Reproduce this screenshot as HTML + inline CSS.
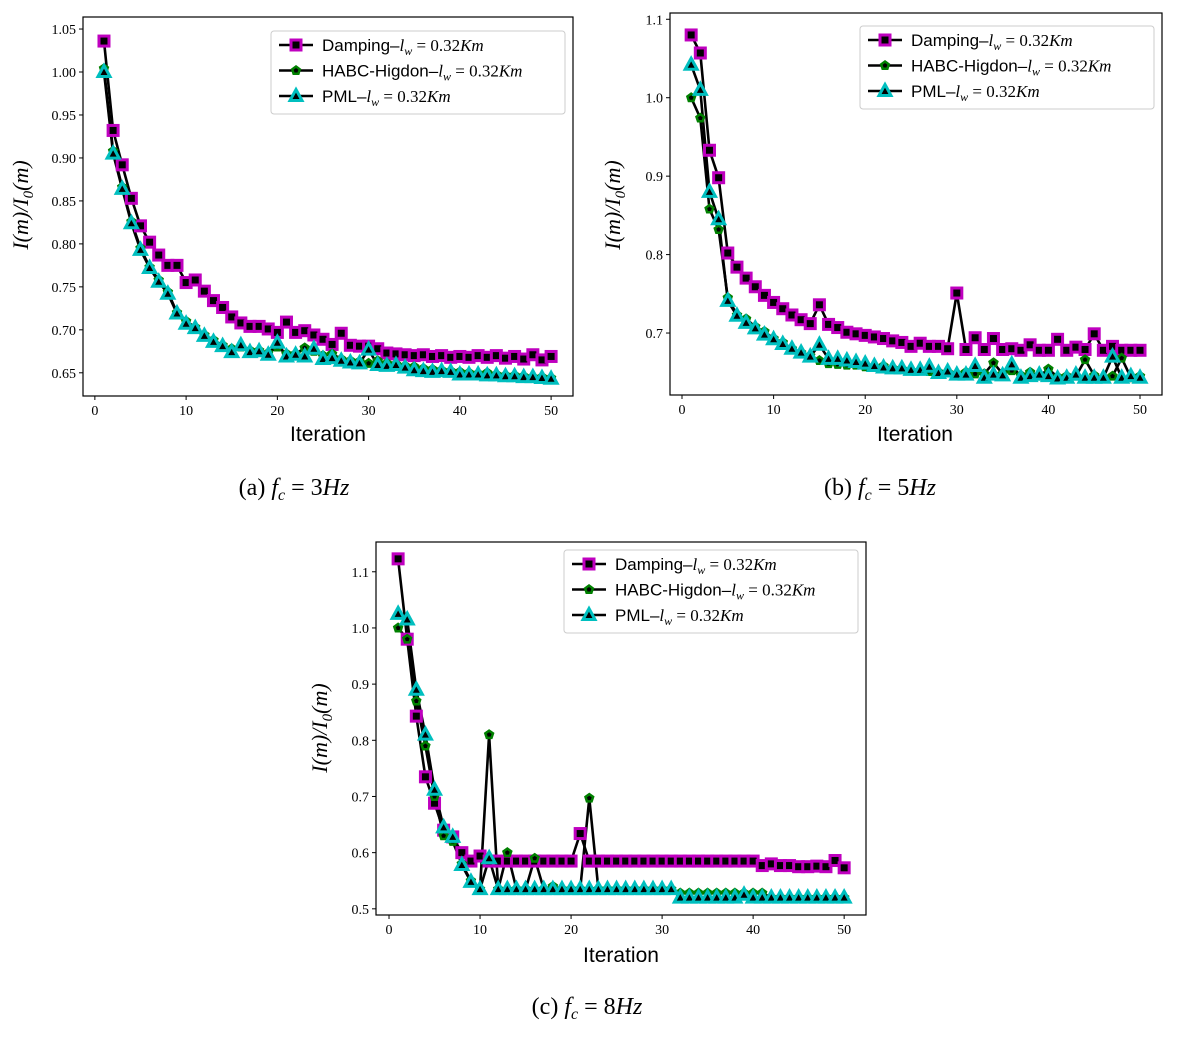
<!DOCTYPE html>
<html><head><meta charset="utf-8"><style>
body{margin:0;background:#fff;width:1177px;height:1034px;overflow:hidden}
</style></head><body>
<svg id="fig" width="1177" height="1034" xmlns="http://www.w3.org/2000/svg"></svg>
<script>
const iterations = Array.from({length:50},(_,i)=>i+1);
const dampA=[1.036,0.932,0.892,0.853,0.821,0.802,0.787,0.775,0.775,0.755,0.758,0.745,0.734,0.726,0.715,0.708,0.704,0.704,0.701,0.697,0.709,0.697,0.699,0.694,0.689,0.683,0.696,0.682,0.681,0.681,0.678,0.673,0.672,0.671,0.670,0.671,0.669,0.670,0.668,0.669,0.668,0.670,0.668,0.670,0.667,0.669,0.666,0.671,0.665,0.669];
const habcA=[1.004,0.908,0.866,0.826,0.795,0.773,0.758,0.744,0.720,0.710,0.703,0.694,0.688,0.682,0.678,0.680,0.676,0.676,0.673,0.680,0.672,0.672,0.679,0.675,0.670,0.672,0.666,0.664,0.663,0.661,0.664,0.661,0.660,0.658,0.657,0.655,0.654,0.653,0.652,0.651,0.650,0.649,0.650,0.648,0.647,0.647,0.646,0.645,0.645,0.644];
const pmlA=[1.000,0.905,0.864,0.824,0.793,0.772,0.756,0.742,0.719,0.707,0.702,0.693,0.686,0.681,0.674,0.682,0.674,0.675,0.671,0.685,0.669,0.671,0.669,0.678,0.666,0.667,0.664,0.662,0.661,0.677,0.659,0.658,0.659,0.656,0.653,0.652,0.651,0.652,0.651,0.648,0.648,0.648,0.647,0.647,0.646,0.646,0.645,0.645,0.644,0.643];
const dampB=[1.080,1.057,0.933,0.898,0.802,0.784,0.770,0.759,0.748,0.739,0.731,0.723,0.717,0.712,0.736,0.711,0.707,0.701,0.699,0.697,0.695,0.693,0.690,0.688,0.683,0.687,0.683,0.683,0.680,0.751,0.679,0.694,0.679,0.693,0.679,0.680,0.678,0.685,0.678,0.678,0.692,0.678,0.682,0.679,0.699,0.678,0.683,0.678,0.678,0.678];
const habcB=[1.000,0.974,0.858,0.832,0.745,0.723,0.718,0.708,0.702,0.693,0.688,0.680,0.675,0.671,0.665,0.661,0.660,0.659,0.659,0.657,0.656,0.658,0.655,0.654,0.652,0.652,0.651,0.650,0.650,0.648,0.650,0.648,0.648,0.662,0.648,0.652,0.646,0.650,0.645,0.654,0.644,0.645,0.645,0.666,0.646,0.643,0.645,0.668,0.643,0.645];
const pmlB=[1.042,1.010,0.880,0.845,0.741,0.722,0.713,0.706,0.698,0.692,0.686,0.680,0.675,0.670,0.685,0.667,0.667,0.665,0.663,0.661,0.658,0.656,0.655,0.655,0.653,0.653,0.657,0.649,0.651,0.647,0.647,0.658,0.643,0.647,0.646,0.660,0.643,0.645,0.647,0.645,0.642,0.643,0.647,0.643,0.643,0.643,0.670,0.643,0.645,0.643];
const dampC=[1.123,0.980,0.843,0.735,0.688,0.640,0.628,0.600,0.585,0.594,0.585,0.585,0.585,0.585,0.585,0.585,0.585,0.585,0.585,0.585,0.634,0.585,0.585,0.585,0.585,0.585,0.585,0.585,0.585,0.585,0.585,0.585,0.585,0.585,0.585,0.585,0.585,0.585,0.585,0.585,0.577,0.580,0.577,0.577,0.575,0.575,0.576,0.575,0.586,0.573];
const habcC=[1.000,0.980,0.870,0.790,0.700,0.630,0.620,0.580,0.550,0.535,0.810,0.535,0.600,0.535,0.535,0.590,0.535,0.540,0.535,0.535,0.535,0.697,0.535,0.535,0.535,0.535,0.535,0.535,0.535,0.535,0.535,0.528,0.528,0.528,0.528,0.528,0.528,0.528,0.528,0.528,0.528,0.520,0.520,0.520,0.520,0.520,0.520,0.520,0.520,0.520];
const pmlC=[1.025,1.015,0.890,0.810,0.712,0.645,0.628,0.578,0.548,0.535,0.590,0.535,0.535,0.535,0.535,0.535,0.535,0.535,0.535,0.535,0.535,0.535,0.535,0.535,0.535,0.535,0.535,0.535,0.535,0.535,0.535,0.520,0.520,0.520,0.520,0.520,0.520,0.520,0.525,0.520,0.520,0.520,0.520,0.520,0.520,0.520,0.520,0.520,0.520,0.520];
const xTicks=[0,10,20,30,40,50];
const yTicksA=[0.65,0.70,0.75,0.80,0.85,0.90,0.95,1.00,1.05];
const yTicksB=[0.7,0.8,0.9,1.0,1.1];
const yTicksC=[0.5,0.6,0.7,0.8,0.9,1.0,1.1];
const labels=["Damping–","HABC-Higdon–","PML–"];

const NS="http://www.w3.org/2000/svg";
const SERIF='"Liberation Serif", serif';
const SANS='"Liberation Sans", sans-serif';
const fig=document.getElementById('fig');
function mk(tag,attrs,parent){const e=document.createElementNS(NS,tag);for(const k in attrs)e.setAttribute(k,attrs[k]);(parent||fig).appendChild(e);return e;}

function marker(g,kind,x,y){
  if(kind===0){
    const m=mk('rect',{x:x-5,y:y-5,width:10,height:10,fill:'#000',stroke:'#bf00bf','stroke-width':3},g);
    
    
  }else if(kind===1){
    let p=[];for(let k=0;k<5;k++){const a=-Math.PI/2+k*2*Math.PI/5;p.push((x+4*Math.cos(a)).toFixed(1)+','+(y+4*Math.sin(a)).toFixed(1));}
    const m=mk('polygon',{points:p.join(' '),fill:'#000',stroke:'#008000','stroke-width':2.5},g);
    
    
  }else{
    const m=mk('polygon',{points:`${x},${y-6.5} ${x+6},${y+4.5} ${x-6},${y+4.5}`,fill:'#000',stroke:'#00bfbf','stroke-width':3},g);
    
    
  }
}

function plot(id,box,xr,yr,yTicks,dec,series,leg,ylab,xlab,cap){
  const g=mk('g',{});
  
  
  const [L,T,R,B]=box;
  const sx=v=>L+(v-xr[0])/(xr[1]-xr[0])*(R-L);
  const sy=v=>B-(v-yr[0])/(yr[1]-yr[0])*(B-T);
  series.forEach((s,si)=>{
    const d=s.map((v,i)=>(i?'L':'M')+sx(iterations[i]).toFixed(1)+','+sy(v).toFixed(1)).join('');
    const p=mk('path',{d:d,fill:'none',stroke:'#000','stroke-width':2.6,'stroke-linejoin':'round'},g);
    
    
  });
  series.forEach((s,si)=>s.forEach((v,i)=>marker(g,si,sx(iterations[i]),sy(v))));
  const fr=mk('rect',{x:L,y:T,width:R-L,height:B-T,fill:'none',stroke:'#000','stroke-width':1.2},g);
  
  
  xTicks.forEach(t=>{const x=sx(t);mk('line',{x1:x,y1:B,x2:x,y2:B+4,stroke:'#000'},g);
    const tx=mk('text',{x:x,y:B+19,'font-size':14,'text-anchor':'middle','font-family':SERIF},g);tx.textContent=t;
    });
  yTicks.forEach(t=>{const y=sy(t);mk('line',{x1:L-4,y1:y,x2:L,y2:y,stroke:'#000'},g);
    const tx=mk('text',{x:L-7,y:y+5,'font-size':14,'text-anchor':'end','font-family':SERIF},g);tx.textContent=t.toFixed(dec);
    });
  const lg=mk('g',{},g);
  
  
  mk('rect',{x:leg[0],y:leg[1],width:294,height:83,fill:'#fff',stroke:'#ccc',rx:3},lg);
  labels.forEach((lb,i)=>{const y=leg[1]+14+i*25.5;
    mk('line',{x1:leg[0]+8,y1:y,x2:leg[0]+42,y2:y,stroke:'#000','stroke-width':2.6},lg);
    marker(lg,i,leg[0]+25,y);
    const t=mk('text',{x:leg[0]+51,y:y+6,'font-size':17,'font-family':SERIF},lg);
    
    const a=mk('tspan',{'font-family':SANS},t);a.textContent=lb;
    const b=mk('tspan',{'font-style':'italic'},t);b.textContent='l';
    const c=mk('tspan',{'font-style':'italic','font-size':12,dy:4},t);c.textContent='w';
    const d=mk('tspan',{dy:-4},t);d.textContent=' = 0.32';
    const e=mk('tspan',{'font-style':'italic'},t);e.textContent='Km';
  });
  const yl=mk('text',{x:ylab[0],y:ylab[1],'font-size':22,'text-anchor':'middle',transform:`rotate(-90 ${ylab[0]} ${ylab[1]})`,'font-style':'italic','font-family':SERIF},g);
  
  yl.innerHTML='I(m)/I<tspan font-size="15" dy="5">0</tspan><tspan dy="-5">(m)</tspan>';
  const xl=mk('text',{x:xlab[0],y:xlab[1],'font-size':21,'text-anchor':'middle','font-family':SANS},g);
  
  xl.textContent='Iteration';
  const cp=mk('text',{x:cap[0],y:cap[1],'font-size':24,'text-anchor':'middle','font-family':SERIF},g);
  
  cp.innerHTML=`(${id}) <tspan font-style="italic">f</tspan><tspan font-size="16" dy="5" font-style="italic">c</tspan><tspan dy="-5"> = ${cap[2]}</tspan><tspan font-style="italic">Hz</tspan>`;
}
plot('a',[83,17,573,396],[-1.3,52.4],[0.623,1.064],yTicksA,2,[dampA,habcA,pmlA],[271,31],[28,205],[328,441],[294,495,3]);
plot('b',[670,13,1162,395],[-1.31,52.4],[0.621,1.108],yTicksB,1,[dampB,habcB,pmlB],[860,26],[620,205],[915,441],[880,495,5]);
plot('c',[376,542,866,915],[-1.43,52.4],[0.489,1.153],yTicksC,1,[dampC,habcC,pmlC],[564,550],[327,728],[621,962],[587,1014,8]);
</script>
</body></html>
